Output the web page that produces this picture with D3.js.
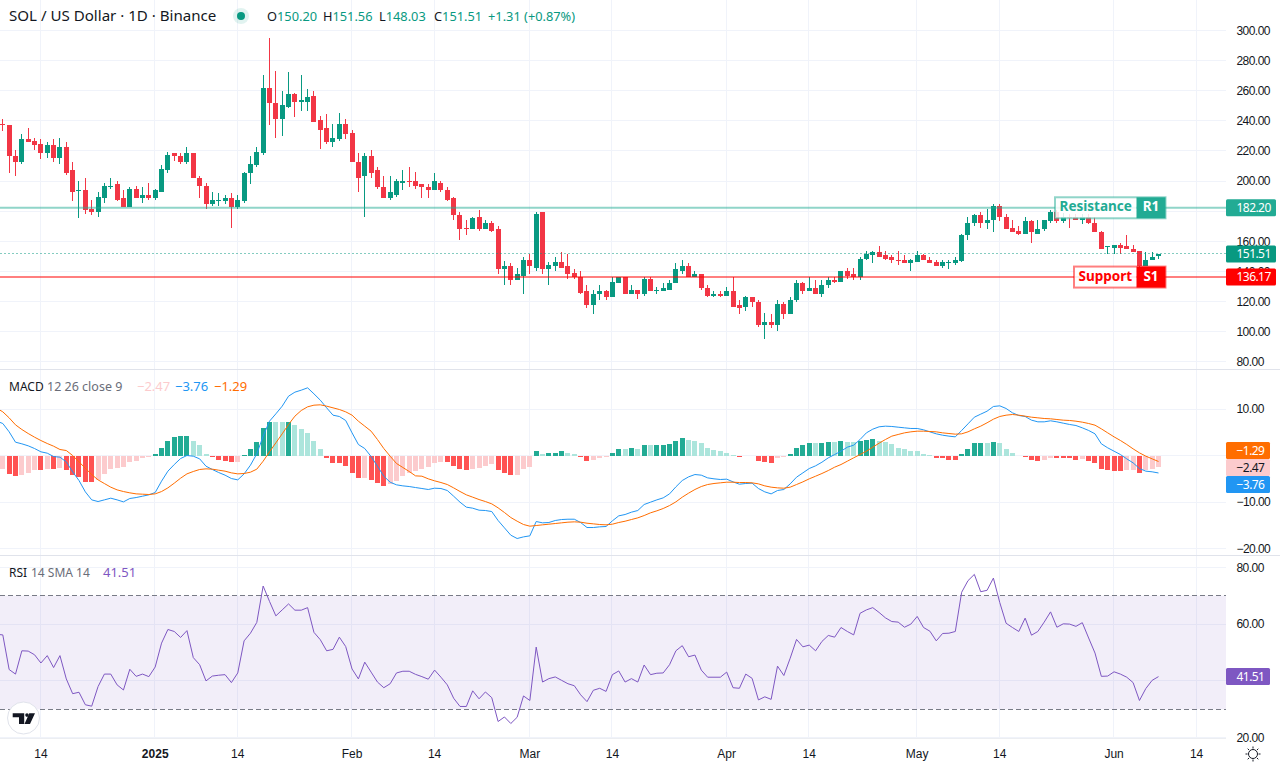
<!doctype html>
<html lang="en">
  <head>
    <meta charset="utf-8">
    <title>SOL / US Dollar 1D</title>
    <script src="https://d3js.org/d3.v7.min.js"></script>
    <style>
    html, body { margin: 0; padding: 0; background: #fff; }
    svg { display: block; font-family: "Noto Sans", sans-serif; font-size: 12px; }
    .axis path { display: none; }
    .axis text { fill: #131722; font-size: 12px; }
    .yaxis text, .tagtext { letter-spacing: -0.55px; }
    </style>
  </head>

  <body>
    <div id="chart">
      <svg width="1280" height="768"></svg>
    </div>

    <script>
      var firstDay = new Date(Date.UTC(2024, 11, 8));
      var endDay = new Date(Date.UTC(2025, 5, 9));

      var opens = [
        238.2,237.5,216.9,212.9,227.6,226.9,224.9,218.9,224.2,215.6,
        222.9,207.0,193.7,194.3,181.1,179.7,189.0,196.3,197.7,188.4,
        183.0,195.0,189.0,191.0,188.4,193.0,207.6,218.3,216.9,212.9,
        218.3,202.3,197.0,184.4,187.0,187.0,188.4,182.4,187.0,205.0,
        210.3,218.9,261.5,251.5,241.5,249.5,257.5,252.2,252.2,256.8,
        240.2,234.9,226.2,227.6,238.2,231.6,212.9,203.0,216.9,207.0,
        196.3,189.0,191.0,199.0,200.3,200.3,197.7,196.3,193.7,199.0,
        194.3,188.4,177.7,169.1,168.4,176.4,168.4,171.8,167.8,141.2,
        143.8,134.5,137.2,147.8,142.5,179.1,141.2,143.8,146.5,143.2,
        139.2,136.5,126.6,117.9,124.6,126.6,122.6,132.5,135.9,125.2,
        127.9,124.6,135.2,126.6,127.2,127.9,131.9,139.9,143.8,136.5,
        138.5,129.2,123.9,124.6,123.9,126.6,117.3,116.6,122.6,119.9,
        104.6,106.6,104.6,118.6,111.9,120.6,131.9,127.2,129.2,125.2,
        130.6,134.5,133.2,139.9,137.9,135.9,148.5,150.5,152.5,150.5,
        149.2,147.8,147.8,145.8,146.5,150.5,147.8,146.5,143.2,145.8,
        145.8,146.7,164.0,171.8,177.7,172.4,173.8,183.7,176.4,169.1,
        167.1,165.1,173.1,165.1,167.8,173.1,179.7,173.1,175.8,175.8,
        174.4,175.8,172.4,166.4,156.5,155.8,157.8,156.5,155.1,153.2,
        143.8,147.2,150.20
      ];
      var closes = [
        236.9,216.3,212.9,227.6,226.2,224.2,218.9,224.2,215.6,222.9,
        205.6,193.0,194.3,180.4,179.7,189.7,197.0,197.0,187.7,183.0,
        195.0,189.0,191.0,188.4,193.7,208.3,217.6,216.3,212.9,218.3,
        201.7,197.0,184.4,187.7,187.7,188.4,182.4,187.7,205.6,211.0,
        219.6,261.5,251.5,241.5,250.2,257.5,252.8,253.5,256.1,239.5,
        234.2,226.2,228.3,238.2,230.9,212.3,202.3,216.3,205.6,195.7,
        189.0,192.4,199.7,200.3,199.7,197.0,196.3,193.7,199.7,193.7,
        187.7,177.1,168.4,168.4,175.7,168.4,171.8,167.1,141.2,143.8,
        134.5,137.9,147.8,143.2,178.4,141.2,144.5,146.5,142.5,138.5,
        135.9,125.9,117.3,125.2,126.6,122.6,133.2,135.9,125.2,127.9,
        124.6,135.2,126.6,127.9,128.6,132.5,141.2,143.8,136.5,138.5,
        128.6,123.9,124.6,123.9,126.6,116.6,115.9,122.6,119.3,104.6,
        106.6,104.6,118.6,111.9,121.2,131.9,127.2,129.2,125.2,131.2,
        134.5,133.2,139.9,137.2,135.9,148.5,151.2,152.5,149.8,148.5,
        147.2,147.2,145.8,147.2,150.5,147.2,145.8,143.2,146.5,146.5,
        147.2,164.4,172.4,177.7,172.4,174.4,183.7,175.8,168.4,166.4,
        165.1,173.1,165.8,168.4,173.8,179.7,173.1,175.8,175.1,174.4,
        175.8,171.8,165.8,155.1,157.1,157.8,155.8,154.5,152.5,143.8,
        147.8,149.8,151.51
      ];
      var highs = [
        241.5,237.5,220.9,230.9,234.9,228.5,227.6,225.6,227.6,228.9,
        225.6,212.3,199.7,202.3,187.7,193.0,199.0,201.7,199.7,193.7,
        195.7,197.0,196.3,199.0,195.0,210.3,219.6,218.3,218.9,222.9,
        218.9,203.0,199.0,193.0,191.7,191.0,191.7,190.4,206.3,216.9,
        222.3,270.1,295.3,272.8,260.1,272.1,258.8,270.1,260.8,260.1,
        242.9,244.2,238.2,244.9,241.5,234.2,218.9,218.9,220.3,209.6,
        203.6,203.6,201.0,207.6,209.0,206.3,198.3,198.3,205.0,200.3,
        196.3,189.7,179.1,174.4,176.4,180.4,174.4,173.1,169.8,147.1,
        145.2,142.5,149.2,151.2,179.7,179.1,146.5,149.8,152.5,151.2,
        141.2,139.9,131.2,127.9,131.2,127.9,135.9,136.5,136.5,130.6,
        127.9,135.9,135.9,129.9,131.9,133.9,145.2,147.2,145.2,139.9,
        138.5,130.6,126.6,127.2,129.9,135.9,120.6,123.9,122.6,120.6,
        112.6,111.9,120.6,119.3,122.6,133.9,133.2,135.9,133.9,133.9,
        135.9,135.9,139.9,141.9,142.5,149.8,153.8,153.2,156.5,153.2,
        150.5,153.2,150.5,148.5,153.8,151.8,149.2,147.8,147.2,147.2,
        149.2,165.1,175.8,178.4,179.7,181.7,184.4,184.4,178.4,173.8,
        169.8,175.8,173.8,173.8,174.4,180.4,180.4,178.5,178.0,178.2,
        178.2,178.2,175.8,167.1,157.1,157.8,158.5,163.8,157.8,153.8,
        152.5,152.5,151.56
      ];
      var lows = [
        232.9,205.0,203.0,211.6,225.6,220.9,214.9,215.6,212.9,211.6,
        204.3,187.0,175.1,178.4,177.1,176.4,185.7,195.0,186.4,182.4,
        183.0,188.4,185.7,187.7,187.7,193.0,205.6,213.6,211.6,211.6,
        201.7,188.4,181.7,183.7,183.7,185.0,169.1,181.7,185.7,198.3,
        209.6,217.6,237.5,228.9,230.2,248.8,242.2,246.8,246.2,239.5,
        221.0,224.9,222.9,226.9,227.6,212.3,193.0,176.4,202.3,195.0,
        188.4,187.7,189.7,193.7,195.7,195.0,188.4,189.0,193.7,192.4,
        186.4,174.4,161.1,163.8,167.8,167.1,167.8,166.4,137.9,131.2,
        130.6,134.5,125.2,138.5,139.9,138.5,130.6,139.9,142.5,135.2,
        135.2,125.2,115.3,111.9,121.2,120.6,122.6,132.5,125.2,125.2,
        121.9,123.9,126.6,124.6,127.2,127.9,131.9,137.9,135.9,135.9,
        127.9,122.6,122.6,122.6,123.9,116.6,111.9,113.3,116.6,103.3,
        95.3,102.6,100.6,108.0,111.9,119.3,125.2,127.2,125.2,123.2,
        129.2,132.5,133.2,135.2,133.9,134.5,147.2,145.2,149.8,147.8,
        145.2,144.5,145.2,140.5,146.5,147.2,145.8,143.2,142.5,141.2,
        144.5,146.5,161.1,170.4,169.1,168.4,165.8,173.1,167.8,166.4,
        163.8,165.1,159.1,165.1,167.1,172.4,172.4,172.4,169.1,173.8,
        171.1,171.1,165.8,155.1,151.2,151.2,151.8,154.5,152.5,141.9,
        143.8,147.2,148.03
      ];

      var macdHist = [
        -2.8,-3.9,-4.5,-4.1,-3.7,-3.2,-3.2,-3.0,-3.0,-2.6,
        -3.2,-4.3,-4.7,-5.6,-5.8,-5.2,-3.9,-2.8,-2.6,-2.4,
        -1.5,-1.1,-0.6,-0.4,0.4,1.7,3.2,3.9,4.1,4.3,
        3.2,2.2,0.4,-0.4,-0.9,-1.1,-1.5,-1.3,0.2,1.5,
        2.8,6.0,7.3,7.1,7.1,7.15,6.5,5.6,4.9,3.2,
        1.5,-0.6,-1.7,-1.7,-2.2,-3.7,-4.9,-4.85,-5.2,-6.0,
        -6.5,-6.2,-5.4,-4.5,-3.7,-3.4,-2.8,-2.4,-1.7,-1.5,
        -1.5,-2.2,-3.0,-3.2,-2.8,-2.6,-2.2,-1.9,-3.2,-3.7,
        -4.3,-4.1,-3.0,-2.4,0.9,0.4,0.45,0.6,0.9,0.6,
        0.4,-0.4,-1.1,-1.05,-0.6,-0.4,0.6,1.5,1.5,1.55,
        1.5,2.2,2.2,2.25,2.3,2.4,3.2,3.7,3.4,3.2,
        2.6,1.7,1.1,0.9,0.6,0.1,-0.4,-0.2,-0.15,-1.1,
        -1.5,-1.7,-0.6,-0.4,0.4,1.7,2.2,2.6,2.6,2.65,
        3.0,3.0,3.2,3.0,2.8,3.2,3.4,3.45,3.2,2.8,
        2.4,1.7,1.3,0.9,0.9,0.4,0.1,-0.6,-0.6,-0.9,
        -0.9,0.4,1.5,2.6,2.65,2.6,3.0,2.6,1.5,0.6,
        -0.2,-0.4,-0.9,-1.1,-1.05,-0.6,-0.6,-0.6,-0.6,-0.9,
        -0.85,-1.1,-1.7,-2.8,-3.2,-3.4,-3.4,-3.2,-3.15,-3.7,
        -3.2,-3.0,-2.47
      ];
      var macdLine = [
        6.88,5.09,2.86,2.51,2.08,1.50,0.79,0.50,-0.22,-0.36,
        -1.37,-3.52,-5.38,-7.82,-9.54,-9.90,-9.54,-9.18,-9.54,-9.97,
        -9.25,-9.04,-8.75,-8.46,-7.96,-5.52,-3.37,-1.94,-0.65,0.00,
        -0.15,-0.72,-2.30,-3.01,-3.66,-4.23,-4.95,-5.24,-3.95,-2.08,
        0.36,4.16,7.38,8.96,10.61,12.76,13.62,14.05,14.55,13.26,
        11.90,10.25,8.67,8.39,7.53,4.87,2.36,1.50,-0.22,-2.30,
        -4.45,-5.74,-6.31,-6.53,-6.67,-6.89,-7.10,-7.31,-7.03,-7.10,
        -7.53,-8.75,-10.04,-11.11,-11.33,-11.76,-11.83,-12.05,-13.98,-15.56,
        -17.14,-17.85,-17.50,-17.28,-14.20,-14.48,-14.41,-13.98,-13.77,-13.70,
        -13.70,-14.41,-15.49,-15.49,-15.34,-15.27,-14.05,-12.98,-12.69,-12.19,
        -11.83,-10.54,-10.04,-9.54,-9.11,-8.25,-6.74,-5.38,-4.59,-4.09,
        -4.23,-4.81,-5.02,-5.16,-5.09,-5.67,-6.17,-6.02,-5.95,-7.10,
        -7.82,-8.25,-7.53,-7.31,-6.10,-4.66,-3.73,-2.80,-2.22,-1.44,
        -0.50,0.21,0.93,1.79,2.22,3.44,4.87,5.66,6.17,6.31,
        6.24,6.09,5.95,5.81,5.81,5.52,5.09,4.66,4.37,4.16,
        4.01,5.38,6.81,8.24,8.89,9.53,10.54,10.68,10.11,9.18,
        8.60,8.39,7.60,7.24,7.24,7.46,7.24,6.95,6.67,6.45,
        5.95,5.38,4.66,2.51,1.65,0.93,0.21,-0.72,-1.58,-2.80,
        -3.37,-3.51,-3.76
      ];
      var signalLine = [
        9.39,8.10,6.59,5.59,4.73,3.94,3.22,2.58,2.00,1.29,
        1.07,0.00,-1.37,-2.73,-4.09,-5.24,-6.03,-6.81,-7.39,-7.75,
        -8.03,-8.25,-8.32,-8.39,-8.25,-7.75,-6.96,-5.95,-4.88,-3.95,
        -3.44,-3.01,-2.87,-2.94,-3.16,-3.37,-3.73,-3.95,-3.87,-3.59,
        -2.94,-1.22,0.79,2.72,4.66,6.67,8.46,9.68,10.47,10.82,
        10.90,10.61,10.25,9.89,9.39,8.67,7.38,6.31,5.23,3.44,
        1.50,-0.15,-1.72,-2.58,-3.44,-4.38,-4.45,-5.02,-5.45,-5.81,
        -6.24,-6.96,-7.74,-8.46,-8.96,-9.47,-9.90,-10.40,-11.26,-12.26,
        -13.34,-14.13,-14.84,-15.20,-15.06,-14.91,-14.77,-14.63,-14.48,-14.34,
        -14.27,-14.34,-14.56,-14.70,-14.84,-14.91,-14.77,-14.41,-14.13,-13.77,
        -13.41,-12.91,-12.33,-11.90,-11.40,-10.76,-9.97,-8.96,-8.10,-7.31,
        -6.67,-6.24,-6.02,-5.88,-5.74,-5.74,-5.81,-5.81,-5.88,-6.10,
        -6.53,-6.81,-6.96,-7.03,-6.81,-6.24,-5.67,-5.02,-4.45,-3.87,
        -3.23,-2.51,-1.94,-1.22,-0.50,0.21,0.93,1.79,2.65,3.44,
        4.16,4.52,4.87,5.09,5.23,5.23,5.16,5.09,4.87,4.73,
        4.59,4.66,5.09,5.73,6.31,7.03,7.81,8.39,8.67,8.82,
        8.67,8.46,8.24,8.10,7.96,7.89,7.74,7.60,7.53,7.38,
        7.17,6.88,6.52,5.73,4.87,4.01,3.23,2.37,1.43,0.57,
        -0.14,-0.72,-1.29
      ];
      var rsiLine = [
        56.2,44.0,42.4,50.6,50.5,49.2,46.3,48.9,44.7,48.9,
        40.7,35.5,36.0,31.6,31.1,38.0,42.4,42.4,38.6,36.8,
        44.1,41.6,42.4,41.5,44.9,53.3,58.1,57.4,55.3,57.7,
        48.2,45.7,40.0,41.7,42.0,42.2,39.4,42.8,54.1,56.8,
        60.6,73.4,68.0,62.9,65.0,67.1,64.9,64.9,65.8,57.1,
        54.5,50.6,51.1,55.4,52.1,44.2,40.7,46.6,43.1,39.6,
        37.6,39.0,42.8,43.4,43.4,42.3,41.5,40.6,43.8,41.3,
        38.6,33.9,31.0,31.0,36.5,33.7,36.1,34.1,25.7,27.3,
        25.0,27.2,34.7,33.1,51.9,39.6,40.8,41.4,40.2,39.0,
        38.3,35.1,32.7,36.7,37.4,36.3,42.2,43.5,39.6,40.8,
        39.6,45.6,42.2,42.7,42.8,45.7,50.6,52.4,48.5,49.1,
        43.8,41.3,41.3,41.3,43.1,37.6,37.4,42.4,40.9,33.3,
        34.4,33.5,45.2,41.9,48.0,54.6,52.0,52.6,50.6,53.9,
        56.0,55.4,58.8,57.4,56.2,63.8,65.0,65.8,64.1,62.2,
        60.9,60.7,58.9,60.0,62.7,58.8,57.5,54.1,56.7,56.8,
        57.4,71.2,75.3,77.5,71.4,71.9,76.2,67.6,60.3,58.8,
        57.4,62.1,56.1,57.4,60.7,64.3,58.9,60.1,60.0,59.2,
        60.5,55.1,49.8,41.6,41.7,43.2,42.4,41.3,39.4,33.1,
        37.3,40.2,41.51
      ];
      // the day before firstDay, off the left edge: only its line segments show
      var macdBefore = 7.4, signalBefore = 10.2, rsiBefore = 56.4;

      var priceTicks = [80, 100, 120, 140, 160, 180, 200, 220, 240, 260, 280, 300];
      var priceLabels = [80, 100, 120, 140, 160, 200, 220, 240, 260, 280, 300];
      var macdTicks = [-20, -10, 0, 10];
      var macdLabels = [-20, -10, 10];
      var rsiTicks = [20, 40, 60, 80];
      var rsiLabels = [20, 60, 80];
      var timeTicks = [
        [2024, 11, 14, '14'], [2025, 0, 1, '2025'], [2025, 0, 14, '14'], [2025, 1, 1, 'Feb'],
        [2025, 1, 14, '14'], [2025, 2, 1, 'Mar'], [2025, 2, 14, '14'], [2025, 3, 1, 'Apr'],
        [2025, 3, 14, '14'], [2025, 4, 1, 'May'], [2025, 4, 14, '14'], [2025, 5, 1, 'Jun'],
        [2025, 5, 14, '14']
      ].map(function(t){ return { date: new Date(Date.UTC(t[0], t[1], t[2])), label: t[3] }; });

      var resistance = 182.20;
      var support = 136.17;
      var lastClose = 151.51;

      var up = '#089981', down = '#f23645', gridColor = '#f0f3fa', textColor = '#131722';
      var chartRight = 1226;

      var svg = d3.select('svg');
      var days = d3.utcDay.range(firstDay, endDay);

      var x = d3.scaleUtc()
        .domain([firstDay, new Date(Date.UTC(2025, 5, 14))])
        .range([2.3, 1196.1]);
      var barX = function(i){ return Math.round(x(days[i])); };

      var yPrice = d3.scaleLinear().domain([80, 300]).range([361.6, 30.5]);
      var yMacd = d3.scaleLinear().domain([-20, 10]).range([548.5, 409]);
      var yRsi = d3.scaleLinear().domain([20, 80]).range([737.7, 567.3]);

      // grid first, everything else sits on top of it
      var grid = svg.append('g').attr('stroke', gridColor).attr('shape-rendering', 'crispEdges');
      var hLines = [].concat(priceTicks.map(yPrice), macdTicks.map(yMacd), rsiTicks.map(yRsi));
      grid.selectAll('line.h').data(hLines).enter().append('line')
        .attr('x1', 0).attr('x2', chartRight)
        .attr('y1', function(d){ return Math.floor(d) + 0.5; })
        .attr('y2', function(d){ return Math.floor(d) + 0.5; });
      grid.selectAll('line.v').data(timeTicks).enter().append('line')
        .attr('x1', function(d){ return Math.floor(x(d.date)) + 0.5; })
        .attr('x2', function(d){ return Math.floor(x(d.date)) + 0.5; })
        .attr('y1', 0).attr('y2', 738);

      // pane separators
      var seps = svg.append('g').attr('stroke', '#e0e3eb').attr('shape-rendering', 'crispEdges');
      [369.5, 555.5].forEach(function(y){
        seps.append('line').attr('x1', 0).attr('x2', 1280).attr('y1', y).attr('y2', y);
      });
      seps.append('line').attr('x1', 0).attr('x2', chartRight).attr('y1', 738.5).attr('y2', 738.5).attr('stroke', '#eceef2');

      // candles
      var candles = svg.append('g').attr('shape-rendering', 'crispEdges');
      var color = function(i){ return closes[i] >= opens[i] ? up : down; };
      candles.selectAll('rect.wick').data(days).enter().append('rect')
        .attr('x', function(d, i){ return barX(i); })
        .attr('width', 1)
        .attr('y', function(d, i){ return yPrice(highs[i]); })
        .attr('height', function(d, i){ return yPrice(lows[i]) - yPrice(highs[i]); })
        .attr('fill', function(d, i){ return color(i); });
      candles.selectAll('rect.body').data(days).enter().append('rect')
        .attr('x', function(d, i){ return barX(i) - 2; })
        .attr('width', 5)
        .attr('y', function(d, i){ return yPrice(Math.max(opens[i], closes[i])); })
        .attr('height', function(d, i){ return Math.max(1, Math.abs(yPrice(opens[i]) - yPrice(closes[i]))); })
        .attr('fill', function(d, i){ return color(i); });

      // last price dotted line and support / resistance levels
      svg.append('line').attr('x1', 0.5).attr('x2', chartRight)
        .attr('y1', Math.floor(yPrice(lastClose)) + 0.5).attr('y2', Math.floor(yPrice(lastClose)) + 0.5)
        .attr('stroke', up).attr('stroke-dasharray', '1 3');
      svg.append('line').attr('x1', 0).attr('x2', chartRight)
        .attr('y1', yPrice(resistance)).attr('y2', yPrice(resistance))
        .attr('stroke', '#22ab94').attr('stroke-opacity', 0.5).attr('stroke-width', 2);
      svg.append('line').attr('x1', 0).attr('x2', chartRight)
        .attr('y1', yPrice(support)).attr('y2', yPrice(support))
        .attr('stroke', '#ff0000').attr('stroke-opacity', 0.5).attr('stroke-width', 2);

      var levelTag = function(value, left, name, code, col, textCol){
        var cy = yPrice(value);
        var g = svg.append('g');
        g.append('rect').attr('x', left).attr('y', cy - 10.5).attr('width', 1136.5 - left).attr('height', 21)
          .attr('fill', '#fff').attr('fill-opacity', 0.85);
        g.append('rect').attr('x', 1136.5).attr('y', cy - 10.5).attr('width', 29).attr('height', 21)
          .attr('fill', col);
        g.append('rect').attr('x', left).attr('y', cy - 10.5).attr('width', 1165.5 - left).attr('height', 21)
          .attr('fill', 'none').attr('stroke', col).attr('stroke-opacity', 0.5).attr('stroke-width', 2);
        g.append('text').attr('x', (left + 1136.5) / 2).attr('y', cy + 3.5).attr('text-anchor', 'middle')
          .attr('font-size', 13.5).attr('font-weight', 700).attr('fill', textCol).text(name);
        g.append('text').attr('x', 1151).attr('y', cy + 3.5).attr('text-anchor', 'middle')
          .attr('font-size', 13.5).attr('font-weight', 700).attr('fill', '#fff').text(code);
      };
      levelTag(resistance, 1055, 'Resistance', 'R1', '#22ab94', '#22ab94');
      levelTag(support, 1074, 'Support', 'S1', '#ff0000', '#ff0000');

      // macd histogram, colour follows rising / falling like the original
      var histColor = function(i){
        var v = macdHist[i], prev = macdHist[i - 1];
        if (v >= 0) return v > prev ? '#22ab94' : '#ace5dc';
        return v <= prev ? '#ff5252' : '#fccbcd';
      };
      svg.append('g').attr('shape-rendering', 'crispEdges')
        .selectAll('rect').data(macdHist).enter().append('rect')
        .attr('x', function(d, i){ return barX(i) - 2; })
        .attr('width', 5)
        .attr('y', function(d){ return Math.min(yMacd(0), yMacd(d)); })
        .attr('height', function(d){ return Math.abs(yMacd(d) - yMacd(0)); })
        .attr('fill', function(d, i){ return histColor(i); });

      var lineOf = function(scale){
        return d3.line()
          .x(function(d, i){ return x(d3.utcDay.offset(firstDay, i - 1)) + 0.5; })
          .y(function(d){ return scale(d); });
      };
      svg.append('path').attr('d', lineOf(yMacd)([macdBefore].concat(macdLine)))
        .attr('fill', 'none').attr('stroke', '#2196f3');
      svg.append('path').attr('d', lineOf(yMacd)([signalBefore].concat(signalLine)))
        .attr('fill', 'none').attr('stroke', '#ff6d00');

      // rsi band
      svg.append('rect').attr('x', 0).attr('width', chartRight)
        .attr('y', yRsi(70)).attr('height', yRsi(30) - yRsi(70))
        .attr('fill', '#7e57c2').attr('fill-opacity', 0.1);
      [70, 30].forEach(function(v){
        svg.append('line').attr('x1', 0).attr('x2', chartRight)
          .attr('y1', Math.floor(yRsi(v)) + 0.5).attr('y2', Math.floor(yRsi(v)) + 0.5)
          .attr('stroke', '#787b86').attr('stroke-dasharray', '5 3');
      });
      svg.append('path').attr('d', lineOf(yRsi)([rsiBefore].concat(rsiLine)))
        .attr('fill', 'none').attr('stroke', '#7e57c2');

      // axes
      var axisRight = function(scale, values){
        return d3.axisRight(scale).tickValues(values).tickSize(0).tickPadding(0).tickFormat(d3.format('.2f'));
      };
      svg.append('g').attr('class', 'axis yaxis').attr('transform', 'translate(1236.5,0)').call(axisRight(yPrice, priceLabels));
      svg.append('g').attr('class', 'axis yaxis').attr('transform', 'translate(1236.5,0)').call(axisRight(yMacd, macdLabels));
      svg.append('g').attr('class', 'axis yaxis').attr('transform', 'translate(1236.5,0)').call(axisRight(yRsi, rsiLabels));

      var timeAxis = d3.axisBottom(x)
        .tickValues(timeTicks.map(function(t){ return t.date; }))
        .tickSize(0).tickPadding(0)
        .tickFormat(function(d, i){ return timeTicks[i].label; });
      var timeG = svg.append('g').attr('class', 'axis').attr('transform', 'translate(0,749)').call(timeAxis);
      timeG.selectAll('text').attr('font-weight', function(d, i){ return timeTicks[i].label === '2025' ? 700 : 400; });

      // value tags on the right
      var tag = function(cy, right, label, bg, fg){
        var g = svg.append('g');
        g.append('rect').attr('x', 1226).attr('y', cy - 8.5).attr('width', right - 1226).attr('height', 17)
          .attr('rx', 1.5).attr('fill', bg);
        g.append('text').attr('class', 'tagtext').attr('x', 1236.5).attr('y', cy + 4.3).attr('fill', fg).attr('font-size', 12).text(label);
      };
      var fmt = d3.format('.2f');
      tag(yPrice(resistance), 1276, fmt(resistance), '#22ab94', '#fff');
      tag(yPrice(lastClose), 1276, fmt(lastClose), up, '#fff');
      tag(yPrice(support), 1276, fmt(support), '#ff0000', '#fff');
      tag(450.5, 1270, fmt(signalLine[182]), '#ff6d00', '#fff');
      tag(467.5, 1270, fmt(macdHist[182]), '#fccbcd', textColor);
      tag(484.5, 1270, fmt(macdLine[182]), '#2196f3', '#fff');
      tag(yRsi(rsiLine[182]), 1270, fmt(rsiLine[182]), '#7e57c2', '#fff');

      // legends
      var legend = function(px, py, str, fill, size, weight){
        svg.append('text').attr('x', px).attr('y', py).attr('fill', fill)
          .attr('font-size', size || 12).attr('font-weight', weight || 400).text(str);
      };
      legend(9, 21, 'SOL / US Dollar · 1D · Binance', textColor, 15.1);
      svg.append('circle').attr('cx', 241).attr('cy', 16).attr('r', 8).attr('fill', up).attr('fill-opacity', 0.12);
      svg.append('circle').attr('cx', 241).attr('cy', 16).attr('r', 4).attr('fill', up);
      [['O', 150.20, 267], ['H', 151.56, 323], ['L', 148.03, 379], ['C', 151.51, 434]].forEach(function(o){
        var t = svg.append('text').attr('x', o[2]).attr('y', 21).attr('font-size', 12.8).attr('fill', textColor).text(o[0]);
        t.append('tspan').attr('fill', up).text(fmt(o[1]));
      });
      legend(488, 21, '+1.31 (+0.87%)', up, 12.8);

      legend(9, 391, 'MACD', textColor);
      legend(47, 391, '12 26 close 9', '#6a6d78', 12.5);
      legend(137, 391, fmt(macdHist[182]), '#fccbcd', 13);
      legend(175, 391, fmt(macdLine[182]), '#2196f3', 13);
      legend(214, 391, fmt(signalLine[182]), '#ff6d00', 13);

      legend(9, 577, 'RSI', textColor);
      legend(31, 577, '14 SMA 14', '#6a6d78');
      legend(103, 577, fmt(rsiLine[182]), '#7e57c2', 13);

      // logo badge
      var logo = svg.append('g');
      logo.append('circle').attr('cx', 23.5).attr('cy', 718).attr('r', 16).attr('fill', '#fff').attr('stroke', '#e0e3eb').attr('stroke-width', 1);
      logo.append('path').attr('fill', textColor)
        .attr('d', 'M12.7 713.3H24.2V724H19V717.2H12.7Z M29.3 713.3H35L30 724H24.5Z');
      logo.append('circle').attr('cx', 27).attr('cy', 715.1).attr('r', 1.8).attr('fill', textColor);

      // settings sun icon
      var sun = svg.append('g').attr('transform', 'translate(1253,754)').attr('stroke', textColor).attr('fill', 'none');
      sun.append('circle').attr('r', 4.5);
      d3.range(8).forEach(function(i){
        var a = i * Math.PI / 4;
        sun.append('line')
          .attr('x1', 5.5 * Math.cos(a)).attr('y1', 5.5 * Math.sin(a))
          .attr('x2', 7.5 * Math.cos(a)).attr('y2', 7.5 * Math.sin(a));
      });
    </script>
  </body>
</html>
